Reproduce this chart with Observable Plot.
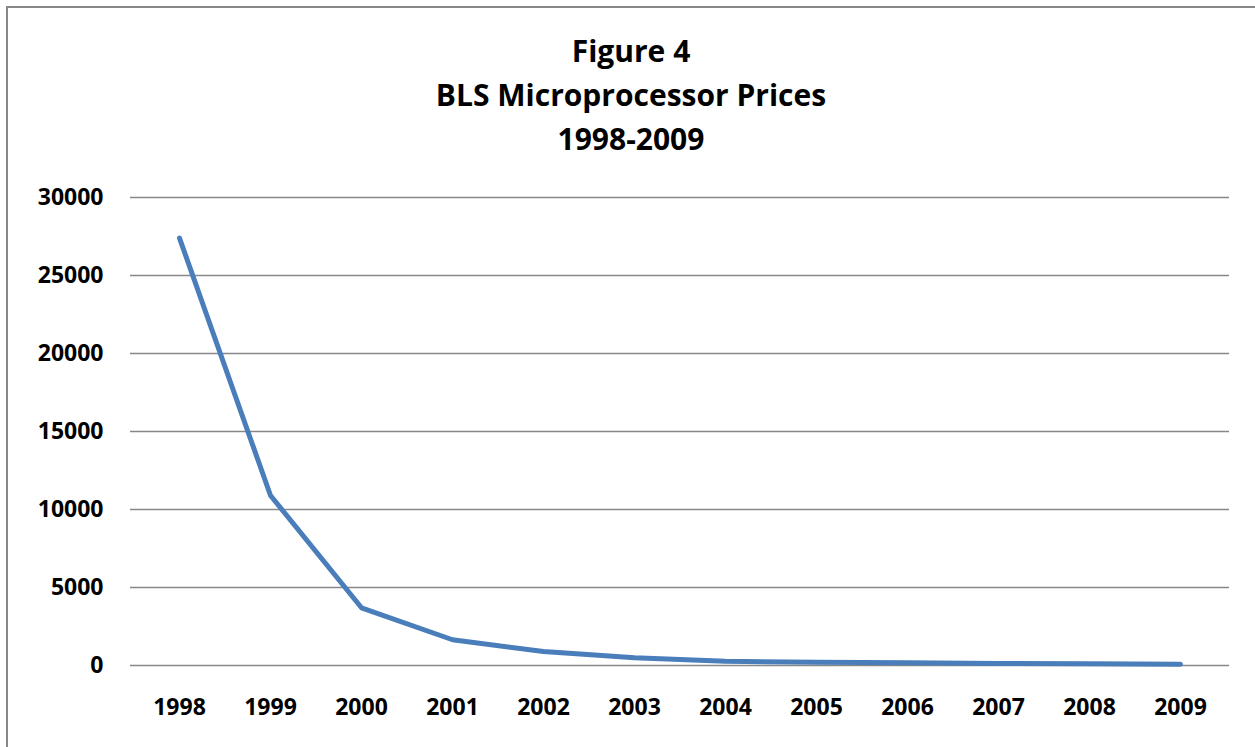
<!DOCTYPE html>
<html>
<head>
<meta charset="utf-8">
<script src="https://cdn.jsdelivr.net/npm/d3@7"></script>
<script src="https://cdn.jsdelivr.net/npm/@observablehq/plot@0.6"></script>
<style>
  html, body { margin: 0; padding: 0; background: #fff; }
  #wrap { position: relative; width: 1255px; height: 747px; overflow: hidden; }
  #frame { position: absolute; left: 6px; top: 6px; width: 1300px; height: 800px;
           border-left: 2px solid #878787; border-top: 2px solid #878787; }
  #title { position: relative; margin-left: 7px; height: 175px; text-align: center;
           font-family: "Open Sans", Lato, sans-serif; font-weight: bold; font-size: 30px;
           line-height: 44px; padding-top: 29px; box-sizing: border-box; color: #000; }
  #chart svg { display: block; }
</style>
</head>
<body>
<div id="wrap">
  <div id="frame"></div>
  <div id="title"><div>Figure 4</div><div>BLS Microprocessor Prices</div><div>1998-2009</div></div>
  <div id="chart"></div>
</div>
<script>
const years = ["1998","1999","2000","2001","2002","2003","2004","2005","2006","2007","2008","2009"];
const prices = [27400, 10900, 3700, 1650, 900, 500, 270, 210, 170, 130, 110, 85];
const yTicks = [0, 5000, 10000, 15000, 20000, 25000, 30000];

const data = years.map((y, i) => ({year: y, price: prices[i]}));

const chart = Plot.plot({
  width: 1255,
  height: 572,
  marginTop: 22,
  marginBottom: 82,
  marginLeft: 130,
  marginRight: 26,
  style: {fontFamily: "'Open Sans', Lato, sans-serif", fontWeight: "bold", fontSize: "23px", color: "#000", background: "transparent"},
  x: {type: "point", domain: years, padding: 0.5, label: null},
  y: {domain: [0, 30000], label: null},
  marks: [
    Plot.ruleY(yTicks, {stroke: "#878787", strokeWidth: 1.4}),
    Plot.axisY({ticks: yTicks, tickSize: 0, tickPadding: 27, tickFormat: d => String(d), label: null, fontSize: 23, fontWeight: "bold"}),
    Plot.axisX({tickSize: 0, tickPadding: 33, label: null, fontSize: 23, fontWeight: "bold"}),
    Plot.line(data, {x: "year", y: "price", stroke: "#4a7ebb", strokeWidth: 5, strokeLinecap: "round", strokeLinejoin: "round"})
  ]
});
document.getElementById("chart").appendChild(chart);
</script>
</body>
</html>
